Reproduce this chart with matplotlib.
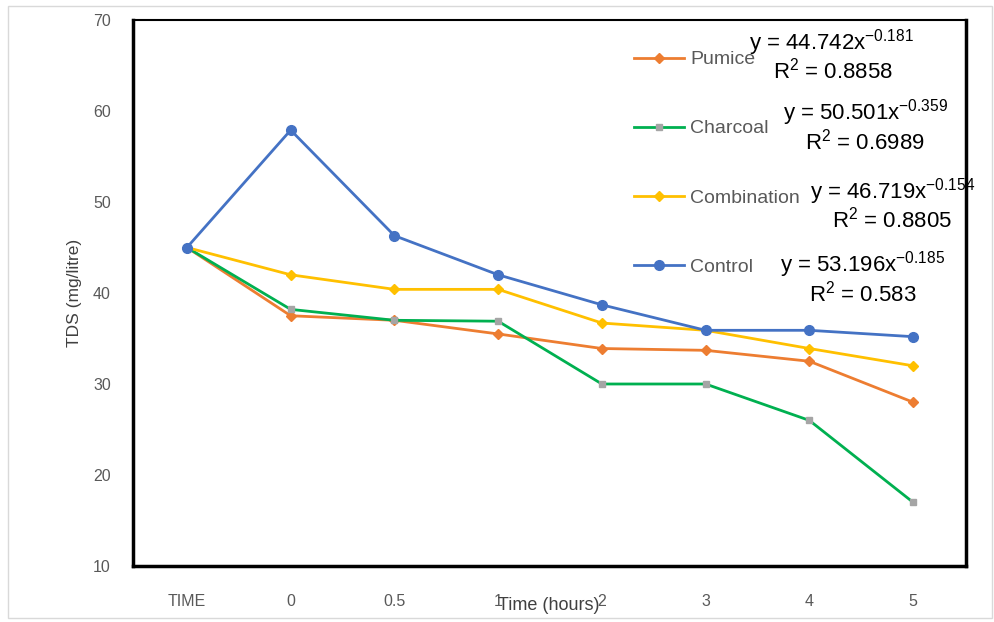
import matplotlib
matplotlib.use("Agg")
import matplotlib.pyplot as plt
from matplotlib.patches import Rectangle

categories = ["TIME", "0", "0.5", "1", "2", "3", "4", "5"]
pumice = [45, 37.5, 37.0, 35.5, 33.9, 33.7, 32.5, 28.0]
charcoal = [45, 38.2, 37.0, 36.9, 30.0, 30.0, 26.0, 17.0]
combination = [45, 42.0, 40.4, 40.4, 36.7, 35.9, 33.9, 32.0]
control = [45, 57.9, 46.3, 42.0, 38.7, 35.9, 35.9, 35.2]

series_names = ["Pumice", "Charcoal", "Combination", "Control"]
equations = [("44.742", "-0.181", "0.8858"),
             ("50.501", "-0.359", "0.6989"),
             ("46.719", "-0.154", "0.8805"),
             ("53.196", "-0.185", "0.583")]

plt.rcParams['font.family'] = ['Liberation Sans', 'DejaVu Sans']
plt.rcParams['mathtext.fontset'] = 'custom'
plt.rcParams['mathtext.rm'] = 'Liberation Sans'
plt.rcParams['mathtext.it'] = 'Liberation Sans'
plt.rcParams['mathtext.bf'] = 'Liberation Sans'

fig = plt.figure(figsize=(9.95, 6.22), dpi=100)
fig.patches.append(Rectangle((8/995, 4/622), 984/995, 612/622, transform=fig.transFigure,
                             fill=False, edgecolor='#d9d9d9', linewidth=1))
ax = fig.add_axes([133/995, 56/622, 833/995, 546/622])

x = list(range(len(categories)))
ax.plot(x, pumice, color='#ED7D31', lw=2, marker='D', ms=5, label=series_names[0], zorder=3)
ax.plot(x, charcoal, color='#00B050', lw=2, marker='s', ms=5, mfc='#A5A5A5', mec='#A5A5A5',
        label=series_names[1], zorder=3)
ax.plot(x, combination, color='#FFC000', lw=2, marker='D', ms=5, label=series_names[2], zorder=3)
ax.plot(x, control, color='#4472C4', lw=2, marker='o', ms=7, label=series_names[3], zorder=3)

ax.set_xlim(-0.52, 7.51)
ax.set_ylim(10, 70)
ax.set_yticks(range(10, 71, 10))
ax.set_xticks(x)
ax.set_xticklabels(categories)
ax.tick_params(axis='both', length=0, labelsize=11.5, labelcolor='#595959')
ax.tick_params(axis='x', pad=20)
ax.tick_params(axis='y', pad=16)
for s in ax.spines.values():
    s.set_color('black')
    s.set_linewidth(1.5)
ax.spines['left'].set_linewidth(2.5)
ax.spines['bottom'].set_linewidth(2.5)
ax.spines['right'].set_linewidth(2.5)

ax.set_ylabel('TDS (mg/litre)', fontsize=12.5, color='#404040', labelpad=8)
fig.text(549/995, 1 - 606/622, 'Time (hours)', ha='center', va='center', fontsize=13, color='#404040')

leg = ax.legend(loc='upper left', bbox_to_anchor=(491/833, 1 - 21/546), frameon=False,
                fontsize=14, labelspacing=2.65, handlelength=2.6, handletextpad=0.3, borderpad=0)
for t in leg.get_texts():
    t.set_color('#595959')

eq_pos = [(832, 43, 833, 71), (865, 113, 865, 142), (893, 192, 892, 220), (863, 265, 863, 294)]
for (c, e, r), (ex, ey, rx, ry) in zip(equations, eq_pos):
    fig.text(ex/995, 1 - ey/622, r'y = %sx$^{%s}$' % (c, e), ha='center', va='center',
             fontsize=16, color='black')
    fig.text(rx/995, 1 - ry/622, r'R$^{2}$ = %s' % r, ha='center', va='center',
             fontsize=16, color='black')

fig.savefig('out.png', dpi=100)
